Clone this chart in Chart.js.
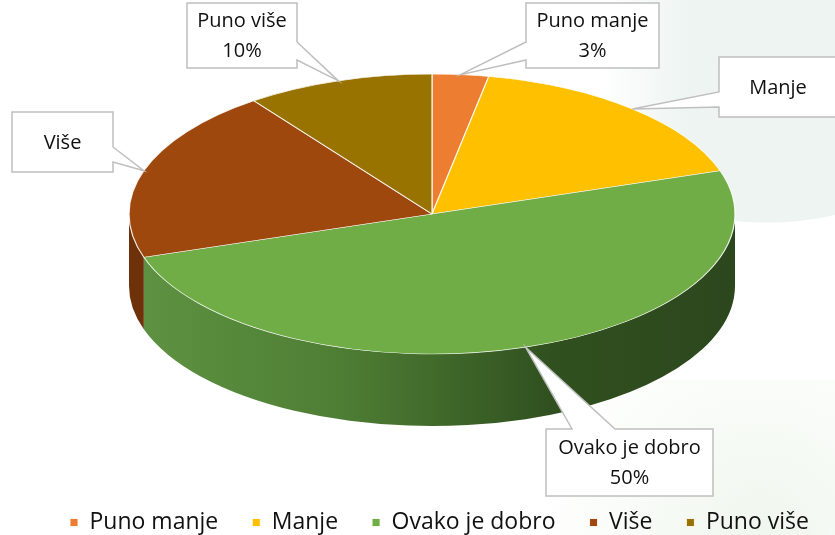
<!DOCTYPE html>
<html>
<head>
<meta charset="utf-8">
<script src="https://cdn.jsdelivr.net/npm/chart.js@4.4.1/dist/chart.umd.min.js"></script>
<style>
  html, body { margin: 0; padding: 0; background: #fff; }
  canvas { display: block; }
</style>
</head>
<body>
<canvas id="pie" width="835" height="535"></canvas>
<script>
// Data (percent of answers)
const categories = ['Puno manje', 'Manje', 'Ovako je dobro', 'Više', 'Puno više'];
const shares = [3, 17, 50, 20, 10];
const calloutWithShare = [true, false, true, false, true];

// Office-like palette
const topColors = ['#ED7D31', '#FFC000', '#70AD47', '#9E480E', '#997300'];
const sideColors = ['#b35e22', '#c29100', 'green', '#6e320a', '#6b5100'];

// Where the tilted pie sits on the page
const cx = 432, cy = 214;   // ellipse centre
const rx = 303, ry = 140;   // ellipse radii
const depth = 72;           // thickness of the disc

// Callout boxes (label layout), wedge side + wedge base
const callouts = [
    { x: 526, y: 3, w: 133, h: 65, side: 'left', p0: 42, p1: 60 },
    { x: 719, y: 57, w: 140, h: 60, side: 'left', p0: 92, p1: 107 },
    { x: 546, y: 429, w: 167, h: 67, side: 'top', p0: 572, p1: 615 },
    { x: 12, y: 112, w: 101, h: 60, side: 'right', p0: 147, p1: 162 },
    { x: 187, y: 3, w: 110, h: 65, side: 'right', p0: 42, p1: 60 }
];

const textFont = '"Open Sans", "Liberation Sans", sans-serif';

// page background with the faint panel on the right
const backdrop = {
    id: 'backdrop',
    beforeDraw(chart) {
        const ctx = chart.ctx;
        ctx.save();
        ctx.fillStyle = '#ffffff';
        ctx.fillRect(0, 0, chart.width, chart.height);
        const g = ctx.createLinearGradient(600, 0, 690, 0);
        g.addColorStop(0, 'rgba(237,244,241,0)');
        g.addColorStop(1, '#edf4f1');
        ctx.fillStyle = g;
        ctx.beginPath();
        ctx.moveTo(600, 0);
        ctx.lineTo(835, 0);
        ctx.lineTo(835, 215);
        ctx.quadraticCurveTo(760, 232, 690, 212);
        ctx.lineTo(600, 225);
        ctx.closePath();
        ctx.fill();
        const g2 = ctx.createRadialGradient(760, 535, 10, 760, 535, 230);
        g2.addColorStop(0, 'rgba(240,247,238,1)');
        g2.addColorStop(1, 'rgba(240,247,238,0)');
        ctx.fillStyle = g2;
        ctx.fillRect(500, 380, 335, 155);
        ctx.restore();
    }
};

function sideFill(ctx, i) {
    if (sideColors[i] !== 'green') return sideColors[i];
    const g = ctx.createLinearGradient(cx - rx, 0, cx + rx, 0);
    g.addColorStop(0, '#5f9342');
    g.addColorStop(0.35, '#4e7e34');
    g.addColorStop(0.7, '#30501f');
    g.addColorStop(1, '#2c471d');
    return g;
}

// draws the disc walls, then squashes the round pie into the tilted ellipse
const tilt = {
    id: 'tilt',
    beforeDatasetsDraw(chart) {
        const ctx = chart.ctx;
        const arcs = chart.getDatasetMeta(0).data;
        ctx.save();
        arcs.forEach((arc, i) => {
            const a = Math.max(arc.startAngle, 0);
            const b = Math.min(arc.endAngle, Math.PI);
            if (a >= b) return;
            ctx.beginPath();
            ctx.ellipse(cx, cy, rx, ry, 0, a, b);
            ctx.lineTo(cx + rx * Math.cos(b), cy + depth + ry * Math.sin(b));
            ctx.ellipse(cx, cy + depth, rx, ry, 0, b, a, true);
            ctx.closePath();
            ctx.fillStyle = sideFill(ctx, i);
            ctx.fill();
        });
        ctx.restore();

        const p = arcs[0];
        ctx.save();
        ctx.translate(cx, cy);
        ctx.scale(rx / p.outerRadius, ry / p.outerRadius);
        ctx.translate(-p.x, -p.y);
    },
    afterDatasetsDraw(chart) {
        chart.ctx.restore();
    }
};

// Excel style wedge callouts pointing at the slice rims
const calloutPlugin = {
    id: 'callouts',
    afterDatasetsDraw(chart) {
        const ctx = chart.ctx;
        const arcs = chart.getDatasetMeta(0).data;
        const total = shares.reduce((s, v) => s + v, 0);
        ctx.save();
        arcs.forEach((arc, i) => {
            const t = (arc.startAngle + arc.endAngle) / 2;
            const tip = { x: cx + rx * Math.cos(t), y: cy + ry * Math.sin(t) };
            const b = callouts[i];
            ctx.beginPath();
            ctx.moveTo(b.x, b.y);
            if (b.side === 'top') {
                ctx.lineTo(b.p0, b.y);
                ctx.lineTo(tip.x, tip.y);
                ctx.lineTo(b.p1, b.y);
            }
            ctx.lineTo(b.x + b.w, b.y);
            if (b.side === 'right') {
                ctx.lineTo(b.x + b.w, b.p0);
                ctx.lineTo(tip.x, tip.y);
                ctx.lineTo(b.x + b.w, b.p1);
            }
            ctx.lineTo(b.x + b.w, b.y + b.h);
            ctx.lineTo(b.x, b.y + b.h);
            if (b.side === 'left') {
                ctx.lineTo(b.x, b.p1);
                ctx.lineTo(tip.x, tip.y);
                ctx.lineTo(b.x, b.p0);
            }
            ctx.closePath();
            ctx.fillStyle = '#ffffff';
            ctx.fill();
            ctx.strokeStyle = '#bfbfbf';
            ctx.lineWidth = 1.5;
            ctx.stroke();

            const lines = [categories[i]];
            if (calloutWithShare[i]) lines.push(Math.round(shares[i] / total * 100) + '%');
            ctx.fillStyle = '#111';
            ctx.font = '20px ' + textFont;
            ctx.textAlign = 'center';
            ctx.textBaseline = 'middle';
            const mx = b.x + Math.min(b.w, 835 - b.x) / 2;
            const my = b.y + b.h / 2;
            const step = 30;
            lines.forEach((s, k) => {
                ctx.fillText(s, b.side === 'left' && b.x > 700 ? 778 : mx, my + 1 + (k - (lines.length - 1) / 2) * step);
            });
        });
        ctx.restore();
    }
};

new Chart(document.getElementById('pie'), {
    type: 'pie',
    data: {
        labels: categories,
        datasets: [{
            data: shares,
            backgroundColor: topColors,
            borderColor: 'rgba(255,255,255,0.85)',
            borderWidth: 1
        }]
    },
    options: {
        responsive: false,
        animation: false,
        events: [],
        layout: { padding: { left: 36, right: -36, top: 0, bottom: -9 } },
        plugins: {
            tooltip: { enabled: false },
            legend: {
                position: 'bottom',
                align: 'start',
                labels: {
                    boxWidth: 8,
                    boxHeight: 8,
                    padding: 34,
                    color: '#111',
                    font: { family: textFont, size: 23 }
                }
            }
        }
    },
    plugins: [backdrop, tilt, calloutPlugin]
});
</script>
</body>
</html>
